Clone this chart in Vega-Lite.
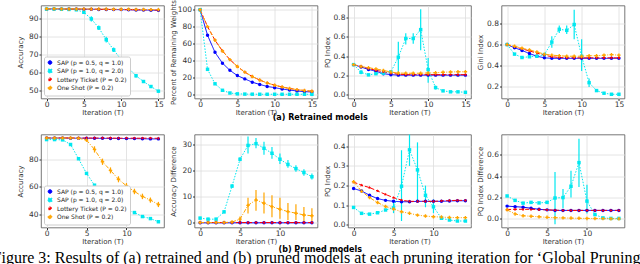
{
"$schema":"https://vega.github.io/schema/vega-lite/v6.json",
"padding":{"left":-8,"top":-1.5,"right":0,"bottom":0},
"background":"white",
"config":{
 "font":"DejaVu Sans",
 "view":{"stroke":"#555","strokeWidth":0.8},
 "axis":{"labelFontSize":7.5,"titleFontSize":7,"titleFontWeight":"normal","labelColor":"#333","titleColor":"#333","gridColor":"#dddddd","gridWidth":0.8,"tickSize":2,"tickColor":"#333","domain":false,"labelPadding":1,"titlePadding":2},
 "axisY":{"minExtent":16,"maxExtent":16},
 "axisX":{"titlePadding":0.5,"labelPadding":0},
 "concat":{"spacing":3.5},
 "legend":{"labelFontSize":6,"symbolSize":14,"rowPadding":0.5,"padding":3,"fillColor":"white","strokeColor":"#cccccc","cornerRadius":2,"offset":3,"symbolStrokeWidth":1,"labelLimit":120,"labelColor":"#222"}
},
"datasets":{
"t1":[
{"t":0,"m":"A","v":95.6},{"t":1,"m":"A","v":95.6},{"t":2,"m":"A","v":95.5},{"t":3,"m":"A","v":95.5},{"t":4,"m":"A","v":95.5},{"t":5,"m":"A","v":95.4},{"t":6,"m":"A","v":95.4},{"t":7,"m":"A","v":95.3},{"t":8,"m":"A","v":95.3},{"t":9,"m":"A","v":95.2},{"t":10,"m":"A","v":95.2},{"t":11,"m":"A","v":95.1},{"t":12,"m":"A","v":95.0},{"t":13,"m":"A","v":95.0},{"t":14,"m":"A","v":94.9},{"t":15,"m":"A","v":94.8},
{"t":0,"m":"B","v":95.5},{"t":1,"m":"B","v":95.5},{"t":2,"m":"B","v":95.4},{"t":3,"m":"B","v":95.3},{"t":4,"m":"B","v":95.1},{"t":5,"m":"B","v":93.7,"lo":93.0,"hi":94.4},{"t":6,"m":"B","v":90.0,"lo":88.6,"hi":91.5},{"t":7,"m":"B","v":85.0,"lo":83.8,"hi":86.3},{"t":8,"m":"B","v":78.4,"lo":76.8,"hi":80.0},{"t":9,"m":"B","v":72.7,"lo":71.5,"hi":74.0},{"t":10,"m":"B","v":67.2,"lo":66.2,"hi":68.3},{"t":11,"m":"B","v":62.5,"lo":61.5,"hi":63.5},{"t":12,"m":"B","v":58.2,"lo":57.3,"hi":59.2},{"t":13,"m":"B","v":55.0,"lo":54.2,"hi":55.8},{"t":14,"m":"B","v":52.2,"lo":51.4,"hi":53.0},{"t":15,"m":"B","v":49.6,"lo":49.0,"hi":50.3},
{"t":0,"m":"C","v":95.6},{"t":1,"m":"C","v":95.6},{"t":2,"m":"C","v":95.6},{"t":3,"m":"C","v":95.5},{"t":4,"m":"C","v":95.5},{"t":5,"m":"C","v":95.5},{"t":6,"m":"C","v":95.4},{"t":7,"m":"C","v":95.4},{"t":8,"m":"C","v":95.3},{"t":9,"m":"C","v":95.3},{"t":10,"m":"C","v":95.2},{"t":11,"m":"C","v":95.2},{"t":12,"m":"C","v":95.1},{"t":13,"m":"C","v":95.1},{"t":14,"m":"C","v":95.0},{"t":15,"m":"C","v":94.9},
{"t":0,"m":"D","v":95.7},{"t":1,"m":"D","v":95.7},{"t":2,"m":"D","v":95.6},{"t":3,"m":"D","v":95.6},{"t":4,"m":"D","v":95.6},{"t":5,"m":"D","v":95.6},{"t":6,"m":"D","v":95.5},{"t":7,"m":"D","v":95.5},{"t":8,"m":"D","v":95.5},{"t":9,"m":"D","v":95.4},{"t":10,"m":"D","v":95.4},{"t":11,"m":"D","v":95.4},{"t":12,"m":"D","v":95.3},{"t":13,"m":"D","v":95.3},{"t":14,"m":"D","v":95.2},{"t":15,"m":"D","v":95.2}
],
"t2":[
{"t":0,"m":"A","v":100},{"t":1,"m":"A","v":69.8},{"t":2,"m":"A","v":49.6},{"t":3,"m":"A","v":36.8},{"t":4,"m":"A","v":28.3},{"t":5,"m":"A","v":22.1},{"t":6,"m":"A","v":18.2},{"t":7,"m":"A","v":14.3},{"t":8,"m":"A","v":11.6},{"t":9,"m":"A","v":9.3},{"t":10,"m":"A","v":7.8},{"t":11,"m":"A","v":6.2},{"t":12,"m":"A","v":5.0},{"t":13,"m":"A","v":3.9},{"t":14,"m":"A","v":3.1},{"t":15,"m":"A","v":2.7},
{"t":0,"m":"B","v":100},{"t":1,"m":"B","v":29.5},{"t":2,"m":"B","v":12.4},{"t":3,"m":"B","v":4.7},{"t":4,"m":"B","v":1.5},{"t":5,"m":"B","v":0.5},{"t":6,"m":"B","v":0.2},{"t":7,"m":"B","v":0.1},{"t":8,"m":"B","v":0},{"t":9,"m":"B","v":0},{"t":10,"m":"B","v":0},{"t":11,"m":"B","v":0},{"t":12,"m":"B","v":0},{"t":13,"m":"B","v":0},{"t":14,"m":"B","v":0},{"t":15,"m":"B","v":0},
{"t":0,"m":"C","v":100},{"t":1,"m":"C","v":80},{"t":2,"m":"C","v":64},{"t":3,"m":"C","v":51.2},{"t":4,"m":"C","v":41},{"t":5,"m":"C","v":32.8},{"t":6,"m":"C","v":26.2},{"t":7,"m":"C","v":21},{"t":8,"m":"C","v":16.8},{"t":9,"m":"C","v":13.4},{"t":10,"m":"C","v":10.7},{"t":11,"m":"C","v":8.6},{"t":12,"m":"C","v":6.9},{"t":13,"m":"C","v":5.5},{"t":14,"m":"C","v":4.4},{"t":15,"m":"C","v":3.5},
{"t":0,"m":"D","v":100},{"t":1,"m":"D","v":80},{"t":2,"m":"D","v":64},{"t":3,"m":"D","v":51.2},{"t":4,"m":"D","v":41},{"t":5,"m":"D","v":32.8},{"t":6,"m":"D","v":26.2},{"t":7,"m":"D","v":21},{"t":8,"m":"D","v":16.8},{"t":9,"m":"D","v":13.4},{"t":10,"m":"D","v":10.7},{"t":11,"m":"D","v":8.6},{"t":12,"m":"D","v":6.9},{"t":13,"m":"D","v":5.5},{"t":14,"m":"D","v":4.4},{"t":15,"m":"D","v":3.5}
],
"t3":[
{"t":0,"m":"A","v":0.31},{"t":1,"m":"A","v":0.285},{"t":2,"m":"A","v":0.26},{"t":3,"m":"A","v":0.24},{"t":4,"m":"A","v":0.215},{"t":5,"m":"A","v":0.205},{"t":6,"m":"A","v":0.2},{"t":7,"m":"A","v":0.2},{"t":8,"m":"A","v":0.2},{"t":9,"m":"A","v":0.2},{"t":10,"m":"A","v":0.2},{"t":11,"m":"A","v":0.2},{"t":12,"m":"A","v":0.2},{"t":13,"m":"A","v":0.2},{"t":14,"m":"A","v":0.2},{"t":15,"m":"A","v":0.2},
{"t":0,"m":"B","v":0.31},{"t":1,"m":"B","v":0.23,"lo":0.21,"hi":0.25},{"t":2,"m":"B","v":0.203,"lo":0.19,"hi":0.215},{"t":3,"m":"B","v":0.215,"lo":0.205,"hi":0.225},{"t":4,"m":"B","v":0.22,"lo":0.21,"hi":0.23},{"t":5,"m":"B","v":0.234,"lo":0.22,"hi":0.25},{"t":6,"m":"B","v":0.388,"lo":0.21,"hi":0.55},{"t":7,"m":"B","v":0.584,"lo":0.52,"hi":0.64},{"t":8,"m":"B","v":0.584,"lo":0.53,"hi":0.64},{"t":9,"m":"B","v":0.677,"lo":0.46,"hi":0.89},{"t":10,"m":"B","v":0.258,"lo":0.12,"hi":0.38},{"t":11,"m":"B","v":0.069,"lo":0.05,"hi":0.09},{"t":12,"m":"B","v":0.035,"lo":0.03,"hi":0.04},{"t":13,"m":"B","v":0.025},{"t":14,"m":"B","v":0.025},{"t":15,"m":"B","v":0.02},
{"t":0,"m":"C","v":0.31},{"t":1,"m":"C","v":0.29},{"t":2,"m":"C","v":0.27},{"t":3,"m":"C","v":0.25},{"t":4,"m":"C","v":0.235},{"t":5,"m":"C","v":0.22},{"t":6,"m":"C","v":0.21},{"t":7,"m":"C","v":0.205},{"t":8,"m":"C","v":0.205},{"t":9,"m":"C","v":0.205},{"t":10,"m":"C","v":0.205},{"t":11,"m":"C","v":0.205},{"t":12,"m":"C","v":0.205},{"t":13,"m":"C","v":0.205},{"t":14,"m":"C","v":0.205},{"t":15,"m":"C","v":0.205},
{"t":0,"m":"D","v":0.31},{"t":1,"m":"D","v":0.29},{"t":2,"m":"D","v":0.278},{"t":3,"m":"D","v":0.265},{"t":4,"m":"D","v":0.25},{"t":5,"m":"D","v":0.232},{"t":6,"m":"D","v":0.222},{"t":7,"m":"D","v":0.22},{"t":8,"m":"D","v":0.22},{"t":9,"m":"D","v":0.22},{"t":10,"m":"D","v":0.223},{"t":11,"m":"D","v":0.225},{"t":12,"m":"D","v":0.23},{"t":13,"m":"D","v":0.233},{"t":14,"m":"D","v":0.235},{"t":15,"m":"D","v":0.235}
],
"t4":[
{"t":0,"m":"A","v":0.6},{"t":1,"m":"A","v":0.57},{"t":2,"m":"A","v":0.545},{"t":3,"m":"A","v":0.515},{"t":4,"m":"A","v":0.49},{"t":5,"m":"A","v":0.475},{"t":6,"m":"A","v":0.47},{"t":7,"m":"A","v":0.47},{"t":8,"m":"A","v":0.47},{"t":9,"m":"A","v":0.47},{"t":10,"m":"A","v":0.47},{"t":11,"m":"A","v":0.47},{"t":12,"m":"A","v":0.47},{"t":13,"m":"A","v":0.47},{"t":14,"m":"A","v":0.47},{"t":15,"m":"A","v":0.47},
{"t":0,"m":"B","v":0.6},{"t":1,"m":"B","v":0.51,"lo":0.5,"hi":0.52},{"t":2,"m":"B","v":0.478,"lo":0.47,"hi":0.49},{"t":3,"m":"B","v":0.485,"lo":0.475,"hi":0.495},{"t":4,"m":"B","v":0.49,"lo":0.48,"hi":0.5},{"t":5,"m":"B","v":0.505,"lo":0.49,"hi":0.52},{"t":6,"m":"B","v":0.624,"lo":0.57,"hi":0.68},{"t":7,"m":"B","v":0.745,"lo":0.71,"hi":0.78},{"t":8,"m":"B","v":0.735,"lo":0.7,"hi":0.78},{"t":9,"m":"B","v":0.79,"lo":0.65,"hi":0.93},{"t":10,"m":"B","v":0.49,"lo":0.35,"hi":0.65},{"t":11,"m":"B","v":0.24,"lo":0.2,"hi":0.28},{"t":12,"m":"B","v":0.165,"lo":0.155,"hi":0.175},{"t":13,"m":"B","v":0.14},{"t":14,"m":"B","v":0.13},{"t":15,"m":"B","v":0.13},
{"t":0,"m":"C","v":0.6},{"t":1,"m":"C","v":0.58},{"t":2,"m":"C","v":0.56},{"t":3,"m":"C","v":0.54},{"t":4,"m":"C","v":0.52},{"t":5,"m":"C","v":0.5},{"t":6,"m":"C","v":0.485},{"t":7,"m":"C","v":0.478},{"t":8,"m":"C","v":0.475},{"t":9,"m":"C","v":0.475},{"t":10,"m":"C","v":0.475},{"t":11,"m":"C","v":0.475},{"t":12,"m":"C","v":0.475},{"t":13,"m":"C","v":0.475},{"t":14,"m":"C","v":0.475},{"t":15,"m":"C","v":0.475},
{"t":0,"m":"D","v":0.6},{"t":1,"m":"D","v":0.585},{"t":2,"m":"D","v":0.565},{"t":3,"m":"D","v":0.55},{"t":4,"m":"D","v":0.53},{"t":5,"m":"D","v":0.51},{"t":6,"m":"D","v":0.5},{"t":7,"m":"D","v":0.495},{"t":8,"m":"D","v":0.49},{"t":9,"m":"D","v":0.49},{"t":10,"m":"D","v":0.49},{"t":11,"m":"D","v":0.495},{"t":12,"m":"D","v":0.495},{"t":13,"m":"D","v":0.5},{"t":14,"m":"D","v":0.505},{"t":15,"m":"D","v":0.5}
],
"b1":[
{"t":0,"m":"A","v":95.6},{"t":1,"m":"A","v":95.6},{"t":2,"m":"A","v":95.6},{"t":3,"m":"A","v":95.5},{"t":4,"m":"A","v":95.5},{"t":5,"m":"A","v":95.5},{"t":6,"m":"A","v":95.4},{"t":7,"m":"A","v":95.4},{"t":8,"m":"A","v":95.3},{"t":9,"m":"A","v":95.3},{"t":10,"m":"A","v":95.2},{"t":11,"m":"A","v":95.2},{"t":12,"m":"A","v":95.1},{"t":13,"m":"A","v":95.0},{"t":14,"m":"A","v":95.0},
{"t":0,"m":"B","v":94.5},{"t":1,"m":"B","v":94.5},{"t":2,"m":"B","v":94.3},{"t":3,"m":"B","v":90.9,"lo":90.2,"hi":91.6},{"t":4,"m":"B","v":80.5,"lo":79.6,"hi":81.4},{"t":5,"m":"B","v":69.8,"lo":69.0,"hi":70.6},{"t":6,"m":"B","v":61.2,"lo":60.4,"hi":62.0},{"t":7,"m":"B","v":54.5,"lo":53.8,"hi":55.2},{"t":8,"m":"B","v":49.7,"lo":49.0,"hi":50.4},{"t":9,"m":"B","v":46.0,"lo":45.4,"hi":46.6},{"t":10,"m":"B","v":43.2,"lo":42.6,"hi":43.8},{"t":11,"m":"B","v":41.2},{"t":12,"m":"B","v":38.3},{"t":13,"m":"B","v":36.8},{"t":14,"m":"B","v":34.5},
{"t":0,"m":"C","v":95.7},{"t":1,"m":"C","v":95.7},{"t":2,"m":"C","v":95.7},{"t":3,"m":"C","v":95.7},{"t":4,"m":"C","v":95.6},{"t":5,"m":"C","v":95.6},{"t":6,"m":"C","v":95.6},{"t":7,"m":"C","v":95.6},{"t":8,"m":"C","v":95.6},{"t":9,"m":"C","v":95.5},{"t":10,"m":"C","v":95.5},{"t":11,"m":"C","v":95.5},{"t":12,"m":"C","v":95.5},{"t":13,"m":"C","v":95.5},{"t":14,"m":"C","v":95.4},
{"t":0,"m":"D","v":95.6},{"t":1,"m":"D","v":95.6},{"t":2,"m":"D","v":95.6},{"t":3,"m":"D","v":95.6},{"t":4,"m":"D","v":95.5},{"t":5,"m":"D","v":94.1,"lo":93.0,"hi":95.2},{"t":6,"m":"D","v":87.3,"lo":85.0,"hi":89.6},{"t":7,"m":"D","v":78.3,"lo":76.0,"hi":80.6},{"t":8,"m":"D","v":72.0,"lo":69.8,"hi":74.2},{"t":9,"m":"D","v":65.5,"lo":63.3,"hi":67.7},{"t":10,"m":"D","v":60.7,"lo":58.6,"hi":62.8},{"t":11,"m":"D","v":56.6,"lo":54.6,"hi":58.6},{"t":12,"m":"D","v":53.0,"lo":51.0,"hi":55.0},{"t":13,"m":"D","v":50.3,"lo":48.4,"hi":52.2},{"t":14,"m":"D","v":47.1,"lo":45.2,"hi":49.0}
],
"b2":[
{"t":0,"m":"A","v":-0.1},{"t":1,"m":"A","v":-0.1},{"t":2,"m":"A","v":-0.1},{"t":3,"m":"A","v":-0.1},{"t":4,"m":"A","v":-0.1},{"t":5,"m":"A","v":-0.1},{"t":6,"m":"A","v":-0.1},{"t":7,"m":"A","v":-0.1},{"t":8,"m":"A","v":-0.1},{"t":9,"m":"A","v":-0.1},{"t":10,"m":"A","v":-0.1},{"t":11,"m":"A","v":-0.1},{"t":12,"m":"A","v":-0.1},{"t":13,"m":"A","v":-0.1},{"t":14,"m":"A","v":-0.1},
{"t":0,"m":"B","v":1.7,"lo":1.2,"hi":2.2},{"t":1,"m":"B","v":1.3,"lo":0.8,"hi":1.8},{"t":2,"m":"B","v":1.3,"lo":0.8,"hi":1.8},{"t":3,"m":"B","v":4.1,"lo":3.6,"hi":4.6},{"t":4,"m":"B","v":14.0,"lo":13.3,"hi":14.7},{"t":5,"m":"B","v":24.3,"lo":23.5,"hi":25.1},{"t":6,"m":"B","v":29.6,"lo":26.5,"hi":33.0},{"t":7,"m":"B","v":30.3,"lo":28.5,"hi":32.5},{"t":8,"m":"B","v":28.5,"lo":26.0,"hi":31.0},{"t":9,"m":"B","v":26.6,"lo":24.5,"hi":29.0},{"t":10,"m":"B","v":24.3,"lo":22.5,"hi":26.5},{"t":11,"m":"B","v":22.3,"lo":21.0,"hi":24.0},{"t":12,"m":"B","v":20.7,"lo":19.5,"hi":22.0},{"t":13,"m":"B","v":19.2,"lo":18.0,"hi":20.5},{"t":14,"m":"B","v":17.6,"lo":16.5,"hi":18.8},
{"t":0,"m":"C","v":0},{"t":1,"m":"C","v":0},{"t":2,"m":"C","v":0},{"t":3,"m":"C","v":0},{"t":4,"m":"C","v":0},{"t":5,"m":"C","v":0},{"t":6,"m":"C","v":0},{"t":7,"m":"C","v":0},{"t":8,"m":"C","v":0},{"t":9,"m":"C","v":0},{"t":10,"m":"C","v":0},{"t":11,"m":"C","v":0},{"t":12,"m":"C","v":0},{"t":13,"m":"C","v":0},{"t":14,"m":"C","v":0},
{"t":0,"m":"D","v":0},{"t":1,"m":"D","v":0},{"t":2,"m":"D","v":0},{"t":3,"m":"D","v":0},{"t":4,"m":"D","v":0.2},{"t":5,"m":"D","v":1.3,"lo":0.3,"hi":2.3},{"t":6,"m":"D","v":6.6,"lo":3.5,"hi":9.5},{"t":7,"m":"D","v":8.7,"lo":4.5,"hi":12.5},{"t":8,"m":"D","v":7.4,"lo":3.5,"hi":11.5},{"t":9,"m":"D","v":6.1,"lo":2.0,"hi":10.5},{"t":10,"m":"D","v":5.1,"lo":1.5,"hi":9.5},{"t":11,"m":"D","v":4.2,"lo":1.0,"hi":7.5},{"t":12,"m":"D","v":3.6,"lo":1.0,"hi":7.0},{"t":13,"m":"D","v":2.9,"lo":0.5,"hi":6.0},{"t":14,"m":"D","v":2.6,"lo":0.5,"hi":5.5}
],
"b3":[
{"t":0,"m":"A","v":0.185},{"t":1,"m":"A","v":0.173},{"t":2,"m":"A","v":0.151},{"t":3,"m":"A","v":0.134},{"t":4,"m":"A","v":0.125},{"t":5,"m":"A","v":0.12},{"t":6,"m":"A","v":0.118},{"t":7,"m":"A","v":0.118},{"t":8,"m":"A","v":0.12},{"t":9,"m":"A","v":0.12},{"t":10,"m":"A","v":0.12},{"t":11,"m":"A","v":0.12},{"t":12,"m":"A","v":0.122},{"t":13,"m":"A","v":0.123},{"t":14,"m":"A","v":0.123},
{"t":0,"m":"B","v":0.089},{"t":1,"m":"B","v":0.059},{"t":2,"m":"B","v":0.055},{"t":3,"m":"B","v":0.062},{"t":4,"m":"B","v":0.076},{"t":5,"m":"B","v":0.087,"lo":0.06,"hi":0.12},{"t":6,"m":"B","v":0.197,"lo":0.02,"hi":0.38},{"t":7,"m":"B","v":0.382,"lo":0.3,"hi":0.46},{"t":8,"m":"B","v":0.28,"lo":0.12,"hi":0.42},{"t":9,"m":"B","v":0.151,"lo":0.09,"hi":0.2},{"t":10,"m":"B","v":0.092,"lo":0.06,"hi":0.13},{"t":11,"m":"B","v":0.034,"lo":0.025,"hi":0.045},{"t":12,"m":"B","v":0.025},{"t":13,"m":"B","v":0.02},{"t":14,"m":"B","v":0.02},
{"t":0,"m":"C","v":0.218},{"t":1,"m":"C","v":0.202},{"t":2,"m":"C","v":0.19},{"t":3,"m":"C","v":0.173},{"t":4,"m":"C","v":0.155},{"t":5,"m":"C","v":0.139},{"t":6,"m":"C","v":0.126},{"t":7,"m":"C","v":0.12},{"t":8,"m":"C","v":0.12},{"t":9,"m":"C","v":0.12},{"t":10,"m":"C","v":0.12},{"t":11,"m":"C","v":0.122},{"t":12,"m":"C","v":0.124},{"t":13,"m":"C","v":0.125},{"t":14,"m":"C","v":0.125},
{"t":0,"m":"D","v":0.22},{"t":1,"m":"D","v":0.171},{"t":2,"m":"D","v":0.139},{"t":3,"m":"D","v":0.114},{"t":4,"m":"D","v":0.094},{"t":5,"m":"D","v":0.081},{"t":6,"m":"D","v":0.067},{"t":7,"m":"D","v":0.059},{"t":8,"m":"D","v":0.05},{"t":9,"m":"D","v":0.045},{"t":10,"m":"D","v":0.042},{"t":11,"m":"D","v":0.04},{"t":12,"m":"D","v":0.038},{"t":13,"m":"D","v":0.037},{"t":14,"m":"D","v":0.037}
],
"b4":[
{"t":0,"m":"A","v":0.12},{"t":1,"m":"A","v":0.115},{"t":2,"m":"A","v":0.11},{"t":3,"m":"A","v":0.1},{"t":4,"m":"A","v":0.09},{"t":5,"m":"A","v":0.085},{"t":6,"m":"A","v":0.08},{"t":7,"m":"A","v":0.08},{"t":8,"m":"A","v":0.08},{"t":9,"m":"A","v":0.08},{"t":10,"m":"A","v":0.08},{"t":11,"m":"A","v":0.08},{"t":12,"m":"A","v":0.08},{"t":13,"m":"A","v":0.08},{"t":14,"m":"A","v":0.08},
{"t":0,"m":"B","v":0.215},{"t":1,"m":"B","v":0.174},{"t":2,"m":"B","v":0.148},{"t":3,"m":"B","v":0.155},{"t":4,"m":"B","v":0.15},{"t":5,"m":"B","v":0.155,"lo":0.14,"hi":0.17},{"t":6,"m":"B","v":0.196,"lo":-0.05,"hi":0.44},{"t":7,"m":"B","v":0.2,"lo":0.1,"hi":0.28},{"t":8,"m":"B","v":0.306,"lo":0.2,"hi":0.45},{"t":9,"m":"B","v":0.527,"lo":0.3,"hi":0.75},{"t":10,"m":"B","v":0.167,"lo":0.05,"hi":0.32},{"t":11,"m":"B","v":0.041},{"t":12,"m":"B","v":0.01},{"t":13,"m":"B","v":0.005},{"t":14,"m":"B","v":0.005},
{"t":0,"m":"C","v":0.088},{"t":1,"m":"C","v":0.09},{"t":2,"m":"C","v":0.09},{"t":3,"m":"C","v":0.09},{"t":4,"m":"C","v":0.088},{"t":5,"m":"C","v":0.085},{"t":6,"m":"C","v":0.082},{"t":7,"m":"C","v":0.08},{"t":8,"m":"C","v":0.08},{"t":9,"m":"C","v":0.08},{"t":10,"m":"C","v":0.08},{"t":11,"m":"C","v":0.08},{"t":12,"m":"C","v":0.08},{"t":13,"m":"C","v":0.08},{"t":14,"m":"C","v":0.08},
{"t":0,"m":"D","v":0.085},{"t":1,"m":"D","v":0.047},{"t":2,"m":"D","v":0.03},{"t":3,"m":"D","v":0.025},{"t":4,"m":"D","v":0.02},{"t":5,"m":"D","v":0.015},{"t":6,"m":"D","v":0.012},{"t":7,"m":"D","v":0.01},{"t":8,"m":"D","v":0.008},{"t":9,"m":"D","v":0.006},{"t":10,"m":"D","v":0.005},{"t":11,"m":"D","v":0.004},{"t":12,"m":"D","v":0.003},{"t":13,"m":"D","v":0.002},{"t":14,"m":"D","v":0.001}
]
},
"title":{"text":"Figure 3: Results of (a) retrained and (b) pruned models at each pruning iteration for ‘Global Pruning’","orient":"bottom","anchor":"start","dx":-23,"font":"Liberation Serif","fontSize":16,"fontWeight":"normal","color":"#000","offset":-4},
"resolve":{"scale":{"color":"independent","shape":"independent","strokeDash":"independent"}},
"spacing":11,
"vconcat":[
{"title":{"text":"(a) Retrained models","orient":"bottom","anchor":"middle","fontSize":8,"fontWeight":"bold","color":"#000","offset":-1.5},
 "resolve":{"scale":{"color":"independent","shape":"independent","strokeDash":"independent"}},
 "hconcat":[
 {"width":123,"height":93,"data":{"name":"t1"},
  "encoding":{"x":{"field":"t","type":"quantitative","scale":{"domain":[-0.75,15.75],"nice":false,"zero":false},"axis":{"values":[0,5,10,15],"title":"Iteration (T)"}},
   "y":{"field":"v","type":"quantitative","title":"Accuracy","scale":{"domain":[45.5,97.5],"nice":false,"zero":false},"axis":{"values":[50,60,70,80,90]}},
   "color":{"field":"m","type":"nominal","title":null,"scale":{"domain":["A","B","C","D"],"range":["#0000ff","#00e8f0","#ff0000","#ffa500"]},"legend":{"orient":"bottom-left","labelExpr":"{'A':'SAP (p = 0.5, q = 1.0)','B':'SAP (p = 1.0, q = 2.0)','C':'Lottery Ticket (P = 0.2)','D':'One Shot (P = 0.2)'}[datum.value]"}}},
  "layer":[
   {"transform":[{"filter":"datum.lo != null"}],"mark":{"type":"rule","strokeWidth":1.2},"encoding":{"y":{"field":"lo","type":"quantitative","title":"Accuracy","scale":{"domain":[45.5,97.5],"nice":false,"zero":false}},"y2":{"field":"hi"}}},
   {"mark":{"type":"line","strokeWidth":1},"encoding":{"strokeDash":{"field":"m","type":"nominal","title":null,"scale":{"domain":["A","B","C","D"],"range":[[1,0],[1.5,1.5],[4,2],[4,1.5,1,1.5]]},"legend":{"orient":"bottom-left","labelExpr":"{'A':'SAP (p = 0.5, q = 1.0)','B':'SAP (p = 1.0, q = 2.0)','C':'Lottery Ticket (P = 0.2)','D':'One Shot (P = 0.2)'}[datum.value]"}}}},
   {"mark":{"type":"point","filled":true,"size":12,"opacity":1},"encoding":{"shape":{"field":"m","type":"nominal","title":null,"scale":{"domain":["A","B","C","D"],"range":["circle","square","M0,-1L0.29,-0.4L0.95,-0.31L0.47,0.15L0.59,0.81L0,0.5L-0.59,0.81L-0.47,0.15L-0.95,-0.31L-0.29,-0.4Z","cross"]},"legend":{"orient":"bottom-left","labelExpr":"{'A':'SAP (p = 0.5, q = 1.0)','B':'SAP (p = 1.0, q = 2.0)','C':'Lottery Ticket (P = 0.2)','D':'One Shot (P = 0.2)'}[datum.value]"}}}}
  ]},
 {"width":123,"height":93,"data":{"name":"t2"},
  "encoding":{"x":{"field":"t","type":"quantitative","scale":{"domain":[-0.75,15.75],"nice":false,"zero":false},"axis":{"values":[0,5,10,15],"title":"Iteration (T)"}},
   "y":{"field":"v","type":"quantitative","title":"Percent of Remaining Weights","scale":{"domain":[-5,105],"nice":false,"zero":false},"axis":{"values":[0,20,40,60,80,100]}},
   "color":{"field":"m","type":"nominal","scale":{"domain":["A","B","C","D"],"range":["#0000ff","#00e8f0","#ff0000","#ffa500"]},"legend":null}},
  "layer":[
   {"mark":{"type":"line","strokeWidth":1},"encoding":{"strokeDash":{"field":"m","type":"nominal","scale":{"domain":["A","B","C","D"],"range":[[1,0],[1.5,1.5],[4,2],[4,1.5,1,1.5]]},"legend":null}}},
   {"mark":{"type":"point","filled":true,"size":12,"opacity":1},"encoding":{"shape":{"field":"m","type":"nominal","scale":{"domain":["A","B","C","D"],"range":["circle","square","M0,-1L0.29,-0.4L0.95,-0.31L0.47,0.15L0.59,0.81L0,0.5L-0.59,0.81L-0.47,0.15L-0.95,-0.31L-0.29,-0.4Z","cross"]},"legend":null}}}
  ]},
 {"width":123,"height":93,"data":{"name":"t3"},
  "encoding":{"x":{"field":"t","type":"quantitative","scale":{"domain":[-0.75,15.75],"nice":false,"zero":false},"axis":{"values":[0,5,10,15],"title":"Iteration (T)"}},
   "y":{"field":"v","type":"quantitative","title":"PQ Index","scale":{"domain":[-0.045,0.93],"nice":false,"zero":false},"axis":{"values":[0,0.2,0.4,0.6,0.8],"format":".1f"}},
   "color":{"field":"m","type":"nominal","scale":{"domain":["A","B","C","D"],"range":["#0000ff","#00e8f0","#ff0000","#ffa500"]},"legend":null}},
  "layer":[
   {"transform":[{"filter":"datum.lo != null"}],"mark":{"type":"rule","strokeWidth":1.2},"encoding":{"y":{"field":"lo","type":"quantitative","title":"PQ Index","scale":{"domain":[-0.045,0.93],"nice":false,"zero":false}},"y2":{"field":"hi"}}},
   {"mark":{"type":"line","strokeWidth":1},"encoding":{"strokeDash":{"field":"m","type":"nominal","scale":{"domain":["A","B","C","D"],"range":[[1,0],[1.5,1.5],[4,2],[4,1.5,1,1.5]]},"legend":null}}},
   {"mark":{"type":"point","filled":true,"size":12,"opacity":1},"encoding":{"shape":{"field":"m","type":"nominal","scale":{"domain":["A","B","C","D"],"range":["circle","square","M0,-1L0.29,-0.4L0.95,-0.31L0.47,0.15L0.59,0.81L0,0.5L-0.59,0.81L-0.47,0.15L-0.95,-0.31L-0.29,-0.4Z","cross"]},"legend":null}}}
  ]},
 {"width":123,"height":93,"data":{"name":"t4"},
  "encoding":{"x":{"field":"t","type":"quantitative","scale":{"domain":[-0.75,15.75],"nice":false,"zero":false},"axis":{"values":[0,5,10,15],"title":"Iteration (T)"}},
   "y":{"field":"v","type":"quantitative","title":"Gini Index","scale":{"domain":[0.09,0.97],"nice":false,"zero":false},"axis":{"values":[0.2,0.4,0.6,0.8],"format":".1f"}},
   "color":{"field":"m","type":"nominal","scale":{"domain":["A","B","C","D"],"range":["#0000ff","#00e8f0","#ff0000","#ffa500"]},"legend":null}},
  "layer":[
   {"transform":[{"filter":"datum.lo != null"}],"mark":{"type":"rule","strokeWidth":1.2},"encoding":{"y":{"field":"lo","type":"quantitative","title":"Gini Index","scale":{"domain":[0.09,0.97],"nice":false,"zero":false}},"y2":{"field":"hi"}}},
   {"mark":{"type":"line","strokeWidth":1},"encoding":{"strokeDash":{"field":"m","type":"nominal","scale":{"domain":["A","B","C","D"],"range":[[1,0],[1.5,1.5],[4,2],[4,1.5,1,1.5]]},"legend":null}}},
   {"mark":{"type":"point","filled":true,"size":12,"opacity":1},"encoding":{"shape":{"field":"m","type":"nominal","scale":{"domain":["A","B","C","D"],"range":["circle","square","M0,-1L0.29,-0.4L0.95,-0.31L0.47,0.15L0.59,0.81L0,0.5L-0.59,0.81L-0.47,0.15L-0.95,-0.31L-0.29,-0.4Z","cross"]},"legend":null}}}
  ]}
 ]},
{"title":{"text":"(b) Pruned models","orient":"bottom","anchor":"middle","fontSize":8,"fontWeight":"bold","color":"#000","offset":1.5},
 "resolve":{"scale":{"color":"independent","shape":"independent","strokeDash":"independent"}},
 "hconcat":[
 {"width":123,"height":93,"data":{"name":"b1"},
  "encoding":{"x":{"field":"t","type":"quantitative","scale":{"domain":[-0.7,14.7],"nice":false,"zero":false},"axis":{"values":[0,5,10],"title":"Iteration (T)"}},
   "y":{"field":"v","type":"quantitative","title":"Accuracy","scale":{"domain":[30.3,98.2],"nice":false,"zero":false},"axis":{"values":[40,60,80]}},
   "color":{"field":"m","type":"nominal","title":null,"scale":{"domain":["A","B","C","D"],"range":["#0000ff","#00e8f0","#ff0000","#ffa500"]},"legend":{"orient":"bottom-left","labelExpr":"{'A':'SAP (p = 0.5, q = 1.0)','B':'SAP (p = 1.0, q = 2.0)','C':'Lottery Ticket (P = 0.2)','D':'One Shot (P = 0.2)'}[datum.value]"}}},
  "layer":[
   {"transform":[{"filter":"datum.lo != null"}],"mark":{"type":"rule","strokeWidth":1.2},"encoding":{"y":{"field":"lo","type":"quantitative","title":"Accuracy","scale":{"domain":[30.3,98.2],"nice":false,"zero":false}},"y2":{"field":"hi"}}},
   {"mark":{"type":"line","strokeWidth":1},"encoding":{"strokeDash":{"field":"m","type":"nominal","title":null,"scale":{"domain":["A","B","C","D"],"range":[[1,0],[1.5,1.5],[4,2],[4,1.5,1,1.5]]},"legend":{"orient":"bottom-left","labelExpr":"{'A':'SAP (p = 0.5, q = 1.0)','B':'SAP (p = 1.0, q = 2.0)','C':'Lottery Ticket (P = 0.2)','D':'One Shot (P = 0.2)'}[datum.value]"}}}},
   {"mark":{"type":"point","filled":true,"size":12,"opacity":1},"encoding":{"shape":{"field":"m","type":"nominal","title":null,"scale":{"domain":["A","B","C","D"],"range":["circle","square","M0,-1L0.29,-0.4L0.95,-0.31L0.47,0.15L0.59,0.81L0,0.5L-0.59,0.81L-0.47,0.15L-0.95,-0.31L-0.29,-0.4Z","cross"]},"legend":{"orient":"bottom-left","labelExpr":"{'A':'SAP (p = 0.5, q = 1.0)','B':'SAP (p = 1.0, q = 2.0)','C':'Lottery Ticket (P = 0.2)','D':'One Shot (P = 0.2)'}[datum.value]"}}}}
  ]},
 {"width":123,"height":93,"data":{"name":"b2"},
  "encoding":{"x":{"field":"t","type":"quantitative","scale":{"domain":[-0.7,14.7],"nice":false,"zero":false},"axis":{"values":[0,5,10],"title":"Iteration (T)"}},
   "y":{"field":"v","type":"quantitative","title":"Accuracy Difference","scale":{"domain":[-1.9,33.8],"nice":false,"zero":false},"axis":{"values":[0,10,20,30]}},
   "color":{"field":"m","type":"nominal","scale":{"domain":["A","B","C","D"],"range":["#0000ff","#00e8f0","#ff0000","#ffa500"]},"legend":null}},
  "layer":[
   {"transform":[{"filter":"datum.lo != null"}],"mark":{"type":"rule","strokeWidth":1.2},"encoding":{"y":{"field":"lo","type":"quantitative","title":"Accuracy Difference","scale":{"domain":[-1.9,33.8],"nice":false,"zero":false}},"y2":{"field":"hi"}}},
   {"mark":{"type":"line","strokeWidth":1},"encoding":{"strokeDash":{"field":"m","type":"nominal","scale":{"domain":["A","B","C","D"],"range":[[1,0],[1.5,1.5],[4,2],[4,1.5,1,1.5]]},"legend":null}}},
   {"mark":{"type":"point","filled":true,"size":12,"opacity":1},"encoding":{"shape":{"field":"m","type":"nominal","scale":{"domain":["A","B","C","D"],"range":["circle","square","M0,-1L0.29,-0.4L0.95,-0.31L0.47,0.15L0.59,0.81L0,0.5L-0.59,0.81L-0.47,0.15L-0.95,-0.31L-0.29,-0.4Z","cross"]},"legend":null}}}
  ]},
 {"width":123,"height":93,"data":{"name":"b3"},
  "encoding":{"x":{"field":"t","type":"quantitative","scale":{"domain":[-0.7,14.7],"nice":false,"zero":false},"axis":{"values":[0,5,10],"title":"Iteration (T)"}},
   "y":{"field":"v","type":"quantitative","title":"PQ Index","scale":{"domain":[-0.013,0.46],"nice":false,"zero":false},"axis":{"values":[0,0.1,0.2,0.3,0.4],"format":".1f"}},
   "color":{"field":"m","type":"nominal","scale":{"domain":["A","B","C","D"],"range":["#0000ff","#00e8f0","#ff0000","#ffa500"]},"legend":null}},
  "layer":[
   {"transform":[{"filter":"datum.lo != null"}],"mark":{"type":"rule","strokeWidth":1.2},"encoding":{"y":{"field":"lo","type":"quantitative","title":"PQ Index","scale":{"domain":[-0.013,0.46],"nice":false,"zero":false}},"y2":{"field":"hi"}}},
   {"mark":{"type":"line","strokeWidth":1},"encoding":{"strokeDash":{"field":"m","type":"nominal","scale":{"domain":["A","B","C","D"],"range":[[1,0],[1.5,1.5],[4,2],[4,1.5,1,1.5]]},"legend":null}}},
   {"mark":{"type":"point","filled":true,"size":12,"opacity":1},"encoding":{"shape":{"field":"m","type":"nominal","scale":{"domain":["A","B","C","D"],"range":["circle","square","M0,-1L0.29,-0.4L0.95,-0.31L0.47,0.15L0.59,0.81L0,0.5L-0.59,0.81L-0.47,0.15L-0.95,-0.31L-0.29,-0.4Z","cross"]},"legend":null}}}
  ]},
 {"width":123,"height":93,"data":{"name":"b4"},
  "encoding":{"x":{"field":"t","type":"quantitative","scale":{"domain":[-0.7,14.7],"nice":false,"zero":false},"axis":{"values":[0,5,10],"title":"Iteration (T)"}},
   "y":{"field":"v","type":"quantitative","title":"PQ Index Difference","scale":{"domain":[-0.08,0.79],"nice":false,"zero":false},"axis":{"values":[0,0.2,0.4,0.6],"format":".1f"}},
   "color":{"field":"m","type":"nominal","scale":{"domain":["A","B","C","D"],"range":["#0000ff","#00e8f0","#ff0000","#ffa500"]},"legend":null}},
  "layer":[
   {"transform":[{"filter":"datum.lo != null"}],"mark":{"type":"rule","strokeWidth":1.2},"encoding":{"y":{"field":"lo","type":"quantitative","title":"PQ Index Difference","scale":{"domain":[-0.08,0.79],"nice":false,"zero":false}},"y2":{"field":"hi"}}},
   {"mark":{"type":"line","strokeWidth":1},"encoding":{"strokeDash":{"field":"m","type":"nominal","scale":{"domain":["A","B","C","D"],"range":[[1,0],[1.5,1.5],[4,2],[4,1.5,1,1.5]]},"legend":null}}},
   {"mark":{"type":"point","filled":true,"size":12,"opacity":1},"encoding":{"shape":{"field":"m","type":"nominal","scale":{"domain":["A","B","C","D"],"range":["circle","square","M0,-1L0.29,-0.4L0.95,-0.31L0.47,0.15L0.59,0.81L0,0.5L-0.59,0.81L-0.47,0.15L-0.95,-0.31L-0.29,-0.4Z","cross"]},"legend":null}}}
  ]}
 ]}
]
}
